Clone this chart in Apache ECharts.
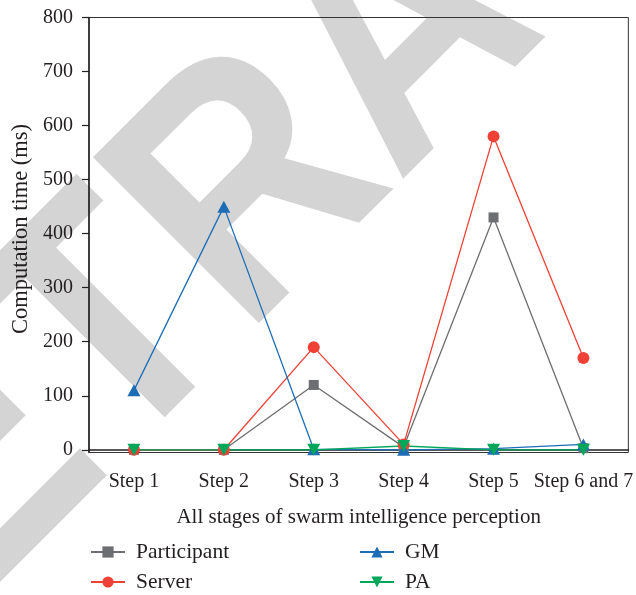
<!DOCTYPE html>
<html>
<head>
<meta charset="utf-8">
<script src="https://cdn.jsdelivr.net/npm/echarts@6/dist/echarts.min.js"></script>
<style>html,body{margin:0;padding:0;background:#fff;}#c{width:636px;height:595px;}</style>
</head>
<body>
<div id="c"></div>
<script>
var categories = ['Step 1', 'Step 2', 'Step 3', 'Step 4', 'Step 5', 'Step 6 and 7'];
var participant = [0, 0, 120, 5, 430, 3];
var server = [0, 0, 190, 10, 580, 170];
var gm = [110, 450, 1, 0, 2, 10];
var pa = [0, 0, 0, 7, 0, 0];
var yTicks = [0, 100, 200, 300, 400, 500, 600, 700, 800];

var FONT = '"Liberation Serif", "DejaVu Serif", serif';
var TXT = '#231f20';
var chart = echarts.init(document.getElementById('c'), null, {renderer: 'canvas'});

function mk(name, data, color, symbol, size, rot) {
  return {
    name: name, type: 'line', data: data,
    symbol: symbol, symbolSize: size, symbolRotate: rot || 0,
    showAllSymbol: true,
    lineStyle: {color: color, width: 1.3},
    itemStyle: {color: color},
    emphasis: {disabled: true},
    animation: false
  };
}

var legendText = {color: TXT, fontFamily: FONT, fontSize: 21.5, lineHeight: 20, padding: [0, 0, 0, 6]};

chart.setOption({
  animation: false,
  backgroundColor: '#fff',
  graphic: [{
    type: 'text', x: 408, y: 41, rotation: Math.PI / 4, scaleX: 1, scaleY: 1.137, z: -10, silent: true,
    style: {text: 'RETRACTED', fill: '#d4d4d4', font: 'bold 300px "Liberation Sans", Arial, sans-serif',
      align: 'center', verticalAlign: 'middle'}
  }],
  grid: {left: 89, right: 6, top: 17.5, bottom: 142.5, show: true, borderColor: '#333', borderWidth: 1, backgroundColor: 'transparent'},
  xAxis: {
    type: 'category', data: categories, boundaryGap: true,
    axisLine: {lineStyle: {color: TXT, width: 1.5}},
    axisTick: {alignWithLabel: true, length: 7, lineStyle: {color: TXT, width: 1.2}},
    axisLabel: {color: TXT, fontFamily: FONT, fontSize: 20, margin: 19, interval: 0},
    name: 'All stages of swarm intelligence perception', nameLocation: 'middle', nameGap: 54,
    nameTextStyle: {color: TXT, fontFamily: FONT, fontSize: 21},
    splitLine: {show: false}
  },
  yAxis: {
    type: 'value', min: -5, max: 800,
    axisLine: {show: true, lineStyle: {color: TXT, width: 1.5}},
    axisTick: {show: true, length: 7, customValues: yTicks, lineStyle: {color: TXT, width: 1.2}},
    axisLabel: {color: TXT, fontFamily: FONT, fontSize: 20, margin: 16, customValues: yTicks},
    splitLine: {show: false},
    name: 'Computation time (ms)', nameLocation: 'middle', nameGap: 56, nameRotate: 90,
    nameTextStyle: {color: TXT, fontFamily: FONT, fontSize: 22.5, padding: [0, 0, 0, 12]}
  },
  legend: [{
    data: ['Participant', 'Server'], orient: 'vertical', left: 90, top: 541, padding: 0,
    itemWidth: 34, itemHeight: 14, itemGap: 8, symbolRotate: 'inherit',
    textStyle: legendText
  }, {
    data: ['GM', 'PA'], orient: 'vertical', left: 359, top: 541, padding: 0,
    itemWidth: 34, itemHeight: 14, itemGap: 8, symbolRotate: 'inherit',
    textStyle: legendText
  }],
  series: [
    mk('Participant', participant, '#6d6e71', 'rect', 10),
    mk('Server', server, '#ef4136', 'circle', 12),
    mk('GM', gm, '#1c6db6', 'triangle', [13, 12]),
    mk('PA', pa, '#00a65a', 'triangle', [13, 12], 180)
  ]
});
</script>
</body>
</html>
